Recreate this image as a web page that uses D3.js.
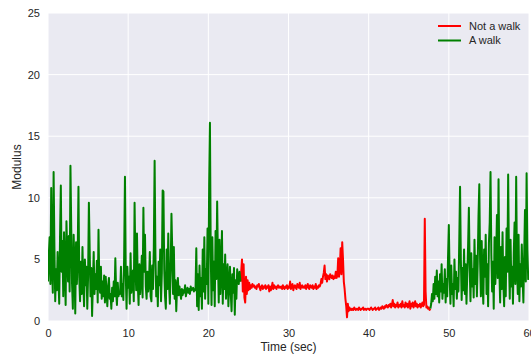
<!DOCTYPE html>
<html>
<head>
<meta charset="utf-8">
<script src="https://cdn.jsdelivr.net/npm/d3@7"></script>
<style>
  html, body { margin: 0; padding: 0; background: #ffffff; }
  svg { display: block; font-family: "Liberation Sans", Arial, sans-serif; }
</style>
</head>
<body>
<svg id="chart" width="531" height="354"></svg>
<script>
// ---- data (sampled every 0.1 s) ----
const walk1Start = 0.0;
const walk1Values = [
  3.2, 5.3, 6.8, 3.0, 10.8, 4.5, 2.3, 12.1, 6.0, 1.6, 4.2,
  2.5, 5.6, 3.4, 1.4, 6.8, 11.0, 4.0, 6.5, 2.0, 7.2,
  4.3, 1.3, 8.1, 5.5, 3.2, 6.9, 2.4, 12.6, 7.5, 3.0,
  1.0, 7.0, 4.6, 0.6, 6.4, 3.0, 5.2, 10.9, 3.5, 1.6,
  4.8, 2.2, 6.0, 3.1, 1.2, 5.0, 2.9, 4.4, 1.0, 3.6,
  9.6, 5.8, 2.0, 4.3, 0.4, 3.0, 5.6, 2.2, 3.8, 2.6,
  4.9, 1.5, 7.4, 3.0, 2.3, 4.4, 1.8, 3.2, 2.0, 3.7,
  1.5, 3.6, 2.4, 1.2, 2.8, 3.5, 1.8, 2.2, 1.0, 2.7,
  1.6, 3.2, 2.0, 5.1, 2.4, 1.3, 3.1, 2.0, 2.4, 2.2,
  4.4, 2.0, 3.0, 1.7, 5.3, 11.7, 3.8, 1.0, 4.4, 2.7,
  3.6, 1.4, 5.5, 2.3, 3.4, 4.1, 1.6, 9.6, 4.8, 2.5,
  7.1, 3.0, 1.3, 4.6, 2.2, 3.5, 5.3, 1.9, 9.2, 4.0,
  7.0, 2.8, 1.8, 4.0, 2.4, 3.1, 5.6, 2.0, 1.6, 4.5,
  2.6, 6.0, 13.0, 5.4, 2.0, 3.6, 1.2, 4.8, 2.9, 5.8,
  1.6, 3.9, 10.6, 10.5, 4.2, 2.0, 1.0, 5.8, 2.6, 7.1,
  3.0, 1.4, 4.2, 8.7, 5.7, 2.2, 6.0, 1.8, 3.3, 0.8,
  2.7, 3.5, 2.1, 2.8, 2.3, 1.8, 2.6, 2.1, 2.5, 2.3,
  2.9, 2.0, 2.4, 2.7, 2.3, 2.6, 2.2, 2.8, 2.5, 2.6,
  2.7, 2.4, 2.6, 2.5, 5.9, 1.2, 3.8, 0.9, 4.5, 2.0,
  3.5, 1.0, 5.8, 2.4, 6.8, 1.8, 4.2, 3.0, 7.5, 1.4,
  11.0, 16.1, 5.5, 1.3, 6.8, 2.5, 4.8, 1.2, 7.3, 3.4,
  9.7, 5.0, 1.5, 6.6, 2.2, 4.0, 7.3, 1.4, 4.6, 2.6,
  5.4, 1.8, 3.6, 4.6, 1.2, 3.0, 4.4, 2.2, 0.8, 3.8,
  2.3, 4.3, 0.5, 3.3, 1.8, 4.2, 3.5, 3.0, 4.0, 3.2
];

const notWalkStart = 24.0;
const notWalkValues = [
  3.2, 4.0, 5.0, 2.4, 4.6, 1.9, 1.5, 3.6, 2.2, 3.3,
  2.5, 3.1, 2.6, 2.9, 2.7, 3.0, 2.8, 2.9, 2.7, 2.8,
  2.6, 2.9, 2.8, 3.0, 2.7, 2.5, 2.8, 2.9, 2.6, 2.8,
  2.7, 2.9, 2.6, 2.8, 2.7, 2.9, 2.4, 2.8, 2.5, 2.7,
  3.1, 2.6, 2.9, 2.7, 2.8, 2.6, 2.8, 2.9, 2.7, 2.8,
  2.7, 2.8, 2.6, 2.9, 2.7, 2.6, 2.8, 2.7, 2.9, 2.6,
  2.8, 2.7, 3.2, 2.6, 2.9, 3.0, 2.5, 2.8, 2.9, 2.7,
  2.6, 3.0, 2.8, 2.7, 3.1, 2.6, 2.8, 2.9, 2.7, 2.8,
  2.7, 2.9, 2.6, 2.8, 3.0, 2.7, 2.6, 2.9, 2.8, 2.7,
  2.9, 2.6, 2.8, 2.7, 3.0, 2.6, 2.8, 2.7, 2.9, 2.8,
  3.0, 3.4, 3.1, 3.6, 3.9, 4.5, 3.4, 3.8, 3.2, 3.7,
  3.5, 3.4, 3.8, 3.6, 3.5, 3.7, 3.4, 3.6, 3.5, 4.0,
  3.5, 3.7, 5.1, 3.6, 4.2, 5.9, 3.8, 6.4, 5.0, 3.2,
  2.6, 1.8, 1.2, 0.3, 1.4, 0.8, 1.1, 0.9, 1.0, 0.9,
  1.0, 0.9, 1.1, 1.0, 0.9, 1.0, 1.0, 0.9, 1.1, 1.0,
  0.9, 1.0, 1.0, 1.1, 0.9, 1.0, 1.0, 0.9, 1.0, 1.0,
  1.0, 0.9, 1.0, 1.1, 1.0, 0.9, 1.0, 1.0, 1.1, 0.9,
  1.0, 1.0, 1.1, 0.9, 1.0, 1.1, 1.0, 1.2, 1.1, 1.0,
  1.2, 1.1, 1.3, 1.2, 1.1, 1.3, 1.2, 1.4, 1.1, 1.3,
  1.7, 1.2, 1.4, 1.1, 1.3, 1.2, 1.5, 1.1, 1.3, 1.2,
  1.4, 1.1, 1.6, 1.2, 1.3, 1.1, 1.5, 1.2, 1.4, 1.1,
  1.3, 1.6, 1.0, 1.4, 1.2, 1.5, 1.1, 1.3, 1.6, 1.2,
  1.4, 1.1, 1.3, 1.2, 1.4, 1.1, 1.3, 1.5, 1.2, 1.3,
  8.3, 2.4, 1.1, 1.2, 1.0, 1.1, 0.9, 1.0
];

const walk2Start = 47.7;
const walk2Values = [
  1.0, 1.4, 2.2,
  1.6, 3.0, 1.8, 3.6, 2.2, 4.1, 2.0, 3.2, 1.5, 3.8,
  2.4, 4.6, 1.8, 3.0, 2.3, 4.2, 1.5, 3.4, 2.0, 5.2,
  7.8, 3.6, 1.4, 4.5, 2.2, 3.0, 1.2, 5.0, 2.6, 4.0,
  1.8, 3.5, 2.4, 6.5, 10.9, 5.0, 1.7, 4.3, 2.5, 5.8,
  2.2, 4.6, 1.4, 3.8, 6.0, 9.2, 4.4, 1.6, 5.5, 2.8,
  4.2, 1.9, 6.6, 3.0, 5.3, 2.0, 4.6, 8.5, 11.1, 4.8,
  2.0, 6.5, 3.2, 1.4, 5.8, 3.6, 7.0, 2.2, 4.6, 1.2,
  6.3, 8.0, 12.1, 5.5, 2.4, 4.8, 1.0, 6.8, 3.0, 5.0,
  8.6, 3.5, 11.5, 4.2, 1.5, 6.0, 2.6, 7.2, 3.0, 1.2,
  5.2, 2.0, 7.5, 4.0, 11.9, 5.0, 1.8, 6.6, 2.8, 4.4,
  1.4, 5.5, 8.0, 3.0, 11.7, 4.5, 2.2, 7.0, 1.6, 4.6,
  2.8, 6.2, 3.5, 1.5, 5.4, 9.0, 3.2, 12.0, 5.8, 3.4,
  4.0
];
const sampleStep = 0.1;

const xTicks = [0, 10, 20, 30, 40, 50, 60];
const yTicks = [0, 5, 10, 15, 20, 25];
const seriesNames = ["Not a walk", "A walk"];
const seriesColors = ["#ff0000", "#008000"];

// ---- layout ----
const svg = d3.select("#chart");
const plot = { left: 48, right: 529, top: 13, bottom: 321 };

const x = d3.scaleLinear().domain([0, 60]).range([plot.left, plot.right]);
const y = d3.scaleLinear().domain([0, 25]).range([plot.bottom, plot.top]);

svg.append("rect")
  .attr("x", plot.left).attr("y", plot.top)
  .attr("width", plot.right - plot.left).attr("height", plot.bottom - plot.top)
  .attr("fill", "#eaeaf2");

svg.append("defs").append("clipPath").attr("id", "clip")
  .append("rect")
  .attr("x", plot.left).attr("y", plot.top)
  .attr("width", plot.right - plot.left).attr("height", plot.bottom - plot.top);

// grid
const grid = svg.append("g");
grid.selectAll("line.gx").data(xTicks).join("line")
  .attr("x1", d => x(d)).attr("x2", d => x(d))
  .attr("y1", plot.top).attr("y2", plot.bottom)
  .attr("stroke", "#ffffff").attr("stroke-width", 1);
grid.selectAll("line.gy").data(yTicks).join("line")
  .attr("y1", d => y(d)).attr("y2", d => y(d))
  .attr("x1", plot.left).attr("x2", plot.right)
  .attr("stroke", "#ffffff").attr("stroke-width", 1);

// axes (labels only, seaborn darkgrid style)
const xAxis = d3.axisBottom(x).tickValues(xTicks).tickSize(0).tickPadding(8).tickFormat(d3.format("d"));
const yAxis = d3.axisLeft(y).tickValues(yTicks).tickSize(0).tickPadding(8).tickFormat(d3.format("d"));

const gx = svg.append("g").attr("transform", `translate(0,${plot.bottom})`).call(xAxis);
const gy = svg.append("g").attr("transform", `translate(${plot.left},0)`).call(yAxis);
[gx, gy].forEach(g => {
  g.select(".domain").remove();
  g.selectAll("text").attr("fill", "#262626").style("font-size", "11px")
    .style("font-family", "'Liberation Sans', Arial, sans-serif");
});

// series
function toPoints(start, vals) {
  return vals.map((v, i) => ({ t: start + i * sampleStep, v }));
}
const line = d3.line().x(d => x(d.t)).y(d => y(d.v));
const lines = svg.append("g").attr("clip-path", "url(#clip)");

lines.append("path").datum(toPoints(notWalkStart, notWalkValues))
  .attr("d", line).attr("fill", "none")
  .attr("stroke", seriesColors[0]).attr("stroke-width", 2).attr("stroke-linejoin", "round");
lines.append("path").datum(toPoints(walk1Start, walk1Values))
  .attr("d", line).attr("fill", "none")
  .attr("stroke", seriesColors[1]).attr("stroke-width", 2).attr("stroke-linejoin", "round");
lines.append("path").datum(toPoints(walk2Start, walk2Values))
  .attr("d", line).attr("fill", "none")
  .attr("stroke", seriesColors[1]).attr("stroke-width", 2).attr("stroke-linejoin", "round");

// axis titles
svg.append("text")
  .attr("x", (plot.left + plot.right) / 2).attr("y", 351)
  .attr("text-anchor", "middle").attr("fill", "#262626")
  .style("font-size", "12px").text("Time (sec)");
svg.append("text")
  .attr("transform", `translate(21,${(plot.top + plot.bottom) / 2}) rotate(-90)`)
  .attr("text-anchor", "middle").attr("fill", "#262626")
  .style("font-size", "12px").text("Modulus");

// legend
const legend = svg.append("g");
seriesNames.forEach((name, i) => {
  const ly = 26 + i * 14.5;
  legend.append("line")
    .attr("x1", 438).attr("x2", 461).attr("y1", ly).attr("y2", ly)
    .attr("stroke", seriesColors[i]).attr("stroke-width", 2);
  legend.append("text")
    .attr("x", 469).attr("y", ly).attr("dy", "0.35em")
    .attr("fill", "#262626").style("font-size", "11px").text(name);
});
</script>
</body>
</html>
